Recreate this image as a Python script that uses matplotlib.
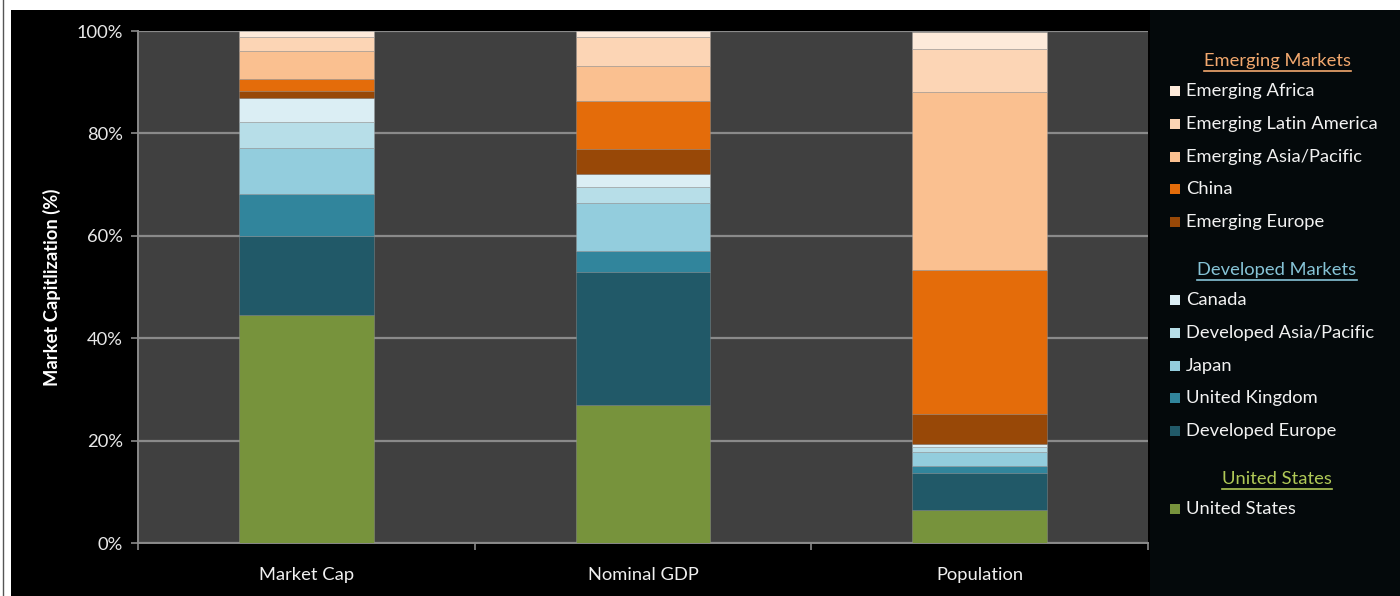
import matplotlib
matplotlib.use("Agg")
import matplotlib.pyplot as plt
from matplotlib.patches import Rectangle
from matplotlib.lines import Line2D

# Data: share (%) of each region by measure
categories = ["Market Cap", "Nominal GDP", "Population"]

series_names = [
    "United States",
    "Developed Europe",
    "United Kingdom",
    "Japan",
    "Developed Asia/Pacific",
    "Canada",
    "Emerging Europe",
    "China",
    "Emerging Asia/Pacific",
    "Emerging Latin America",
    "Emerging Africa",
]

united_states = [44.5, 27.0, 6.4]
developed_europe = [15.5, 25.9, 7.3]
united_kingdom = [8.2, 4.1, 1.3]
japan = [8.9, 9.5, 2.8]
developed_asia_pacific = [5.1, 3.1, 0.9]
canada = [4.8, 2.5, 0.7]
emerging_europe = [1.2, 4.9, 5.8]
china = [2.5, 9.3, 28.2]
emerging_asia_pacific = [5.3, 6.9, 34.7]
emerging_latin_america = [2.8, 5.6, 8.3]
emerging_africa = [1.2, 1.2, 3.5]

series_values = [
    united_states, developed_europe, united_kingdom, japan,
    developed_asia_pacific, canada, emerging_europe, china,
    emerging_asia_pacific, emerging_latin_america, emerging_africa,
]

colors = {
    "United States": "#77933c",
    "Developed Europe": "#215968",
    "United Kingdom": "#31859c",
    "Japan": "#93cddd",
    "Developed Asia/Pacific": "#b7dee8",
    "Canada": "#dbeef4",
    "Emerging Europe": "#984807",
    "China": "#e46c0a",
    "Emerging Asia/Pacific": "#fac090",
    "Emerging Latin America": "#fcd5b5",
    "Emerging Africa": "#fdeada",
}

legend_groups = [
    ("Emerging Markets", "#f2a86e",
     ["Emerging Africa", "Emerging Latin America", "Emerging Asia/Pacific",
      "China", "Emerging Europe"]),
    ("Developed Markets", "#86c3d6",
     ["Canada", "Developed Asia/Pacific", "Japan", "United Kingdom",
      "Developed Europe"]),
    ("United States", "#b0c957", ["United States"]),
]

y_ticks = [0, 20, 40, 60, 80, 100]
y_tick_labels = ["0%", "20%", "40%", "60%", "80%", "100%"]

FONT = "Lato"
FS = 13.2
W, H = 1400, 596
fig = plt.figure(figsize=(W / 100, H / 100), dpi=100, facecolor="white")

def fx(px):
    return px / W

def fy(py):
    return 1 - py / H

# Dark panel behind the chart and the legend column
fig.patches.append(Rectangle((fx(11), 0), 1 - fx(11), fy(10), transform=fig.transFigure,
                             facecolor="black", edgecolor="none", zorder=-2))
fig.patches.append(Rectangle((fx(1150), 0), 1 - fx(1150), fy(10), transform=fig.transFigure,
                             facecolor="#04090b", edgecolor="none", zorder=-1))
fig.lines.append(Line2D([fx(2.5), fx(2.5)], [0, 1], transform=fig.transFigure,
                       color="#555555", lw=1.0, zorder=-1))

ax = fig.add_axes([fx(138), fy(543), fx(1148) - fx(138), fy(31) - fy(543)])
ax.set_zorder(2)
ax.set_facecolor("#404040")

x = list(range(len(categories)))
bottom = [0.0] * len(categories)
for name, vals in zip(series_names, series_values):
    ax.bar(x, vals, width=0.4, bottom=bottom, color=colors[name],
           edgecolor=(0.6, 0.6, 0.6, 0.45), linewidth=0.6, zorder=3)
    bottom = [b + v for b, v in zip(bottom, vals)]

ax.set_xlim(-0.5, len(categories) - 0.5)
ax.set_ylim(0, 100)

ax.set_yticks(y_ticks)
ax.set_yticklabels(y_tick_labels, fontfamily=FONT, fontsize=FS, color="#e8e8e8")
ax.yaxis.grid(True, color="#8a8a8a", linewidth=1.6, zorder=1)
ax.set_axisbelow(True)

ax.set_xticks(x)
ax.set_xticklabels(categories, fontfamily=FONT, fontsize=FS, color="#f0f0f0")
ax.set_xticks([-0.5, 0.5, 1.5, 2.5], minor=True)
ax.tick_params(axis="x", which="major", length=0, pad=17)
ax.tick_params(axis="x", which="minor", length=5, color="#8a8a8a", width=1.2)
ax.tick_params(axis="y", length=5, color="#8a8a8a", width=1.2, pad=6)

for side in ["top", "right"]:
    ax.spines[side].set_visible(False)
for side in ["left", "bottom"]:
    ax.spines[side].set_color("#8a8a8a")
    ax.spines[side].set_linewidth(1.4)

ax.set_ylabel("Market Capitlization (%)", fontfamily=FONT, fontsize=FS,
              fontweight="bold", color="white", labelpad=11)

# Grouped legend column
lx_center = 1277
y = 61
for header, hcolor, items in legend_groups:
    t = fig.text(fx(lx_center), fy(y), header, ha="center", va="center",
                 fontfamily=FONT, fontsize=FS, color=hcolor)
    fig.canvas.draw()
    bb = t.get_window_extent()
    fig.lines.append(Line2D([bb.x0 / W, bb.x1 / W], [fy(y + 10), fy(y + 10)],
                            transform=fig.transFigure, color=hcolor, lw=1.2))
    y += 30
    for item in items:
        fig.patches.append(Rectangle((fx(1170), fy(y + 5)), fx(10), 10 / H,
                                     transform=fig.transFigure,
                                     facecolor=colors[item], edgecolor="none"))
        fig.text(fx(1186), fy(y), item, ha="left", va="center",
                 fontfamily=FONT, fontsize=FS, color="#f2f2f2")
        y += 32.8
    y += 15

fig.savefig("out.png", dpi=100, facecolor=fig.get_facecolor())
